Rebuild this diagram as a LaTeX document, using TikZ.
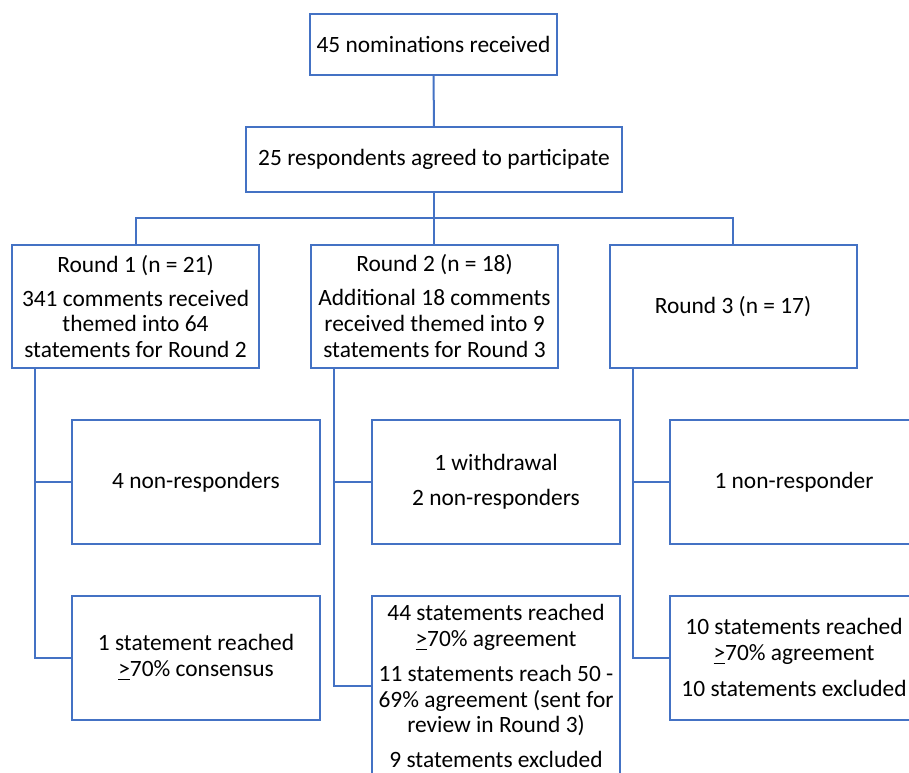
\documentclass[tikz,border=0pt]{standalone}
\usepackage{fontspec}
\setmainfont{Carlito}
\usetikzlibrary{positioning,calc}
\definecolor{flowblue}{RGB}{68,114,196}

\begin{document}
\begin{tikzpicture}[x=0.5pt, y=-0.5pt,
  box/.style={draw=flowblue, line width=1pt, fill=white, align=center,
    font=\fontsize{11.7}{12.8}\selectfont, inner sep=1pt},
  roundbox/.style={box, minimum width=123.5pt, minimum height=61.5pt},
  outbox/.style={box, minimum width=124pt, minimum height=62pt},
  link/.style={draw=flowblue, line width=1pt}]
\useasboundingbox (0,0) rectangle (909,772);
\clip (0,0) rectangle (909,772);
% top of the chart
\node[box, minimum width=123.5pt, minimum height=30.5pt] (nom) at (433.5,44.5) {45 nominations received};
\node[box, minimum width=188pt, minimum height=32.5pt] (resp) at (434,159.5) {25 respondents agreed to participate};
% rounds
\node[roundbox] (r1) at (135.5,306.5) {Round 1 (n = 21)\\[4.2pt]341 comments received\\themed into 64\\statements for Round 2};
\node[roundbox] (r2) at (434.5,306) {Round 2 (n = 18)\\[4.2pt]Additional 18 comments\\received themed into 9\\statements for Round 3};
\node[roundbox] (r3) at (733,306.5) {Round 3 (n = 17)};
% outcomes
\node[outbox] (r1a) at (196,482) {4 non-responders};
\node[outbox] (r2a) at (496,482) {1 withdrawal\\[4.5pt]2 non-responders};
\node[outbox] (r3a) at (794,482) {1 non-responder};
\node[outbox] (r1b) at (196,657.5) {1 statement reached\\\underline{>}70\% consensus};
\node[outbox, minimum height=90pt] (r2b) at (496,686) {44 statements reached\\\underline{>}70\% agreement\\[5pt]11 statements reach 50 -\\69\% agreement (sent for\\review in Round 3)\\[4.5pt]9 statements excluded};
\node[outbox] (r3b) at (794,657.5) {10 statements reached\\\underline{>}70\% agreement\\[5pt]10 statements excluded};
% connectors
\coordinate (split) at ($(resp.south)!.5!(r2.north)$);
\draw[link] (nom) -- (resp);
\draw[link] (resp.south) -- (resp.south |- r2.north);
\draw[link] (r1.north) |- (split) -| (r3.north);
\foreach \r in {r1,r2,r3}{
  \draw[link] ([xshift=12pt]\r.south west) |- (\r a.west);
  \draw[link] ([xshift=12pt]\r.south west) |- (\r b.west);
}
\end{tikzpicture}
\end{document}
